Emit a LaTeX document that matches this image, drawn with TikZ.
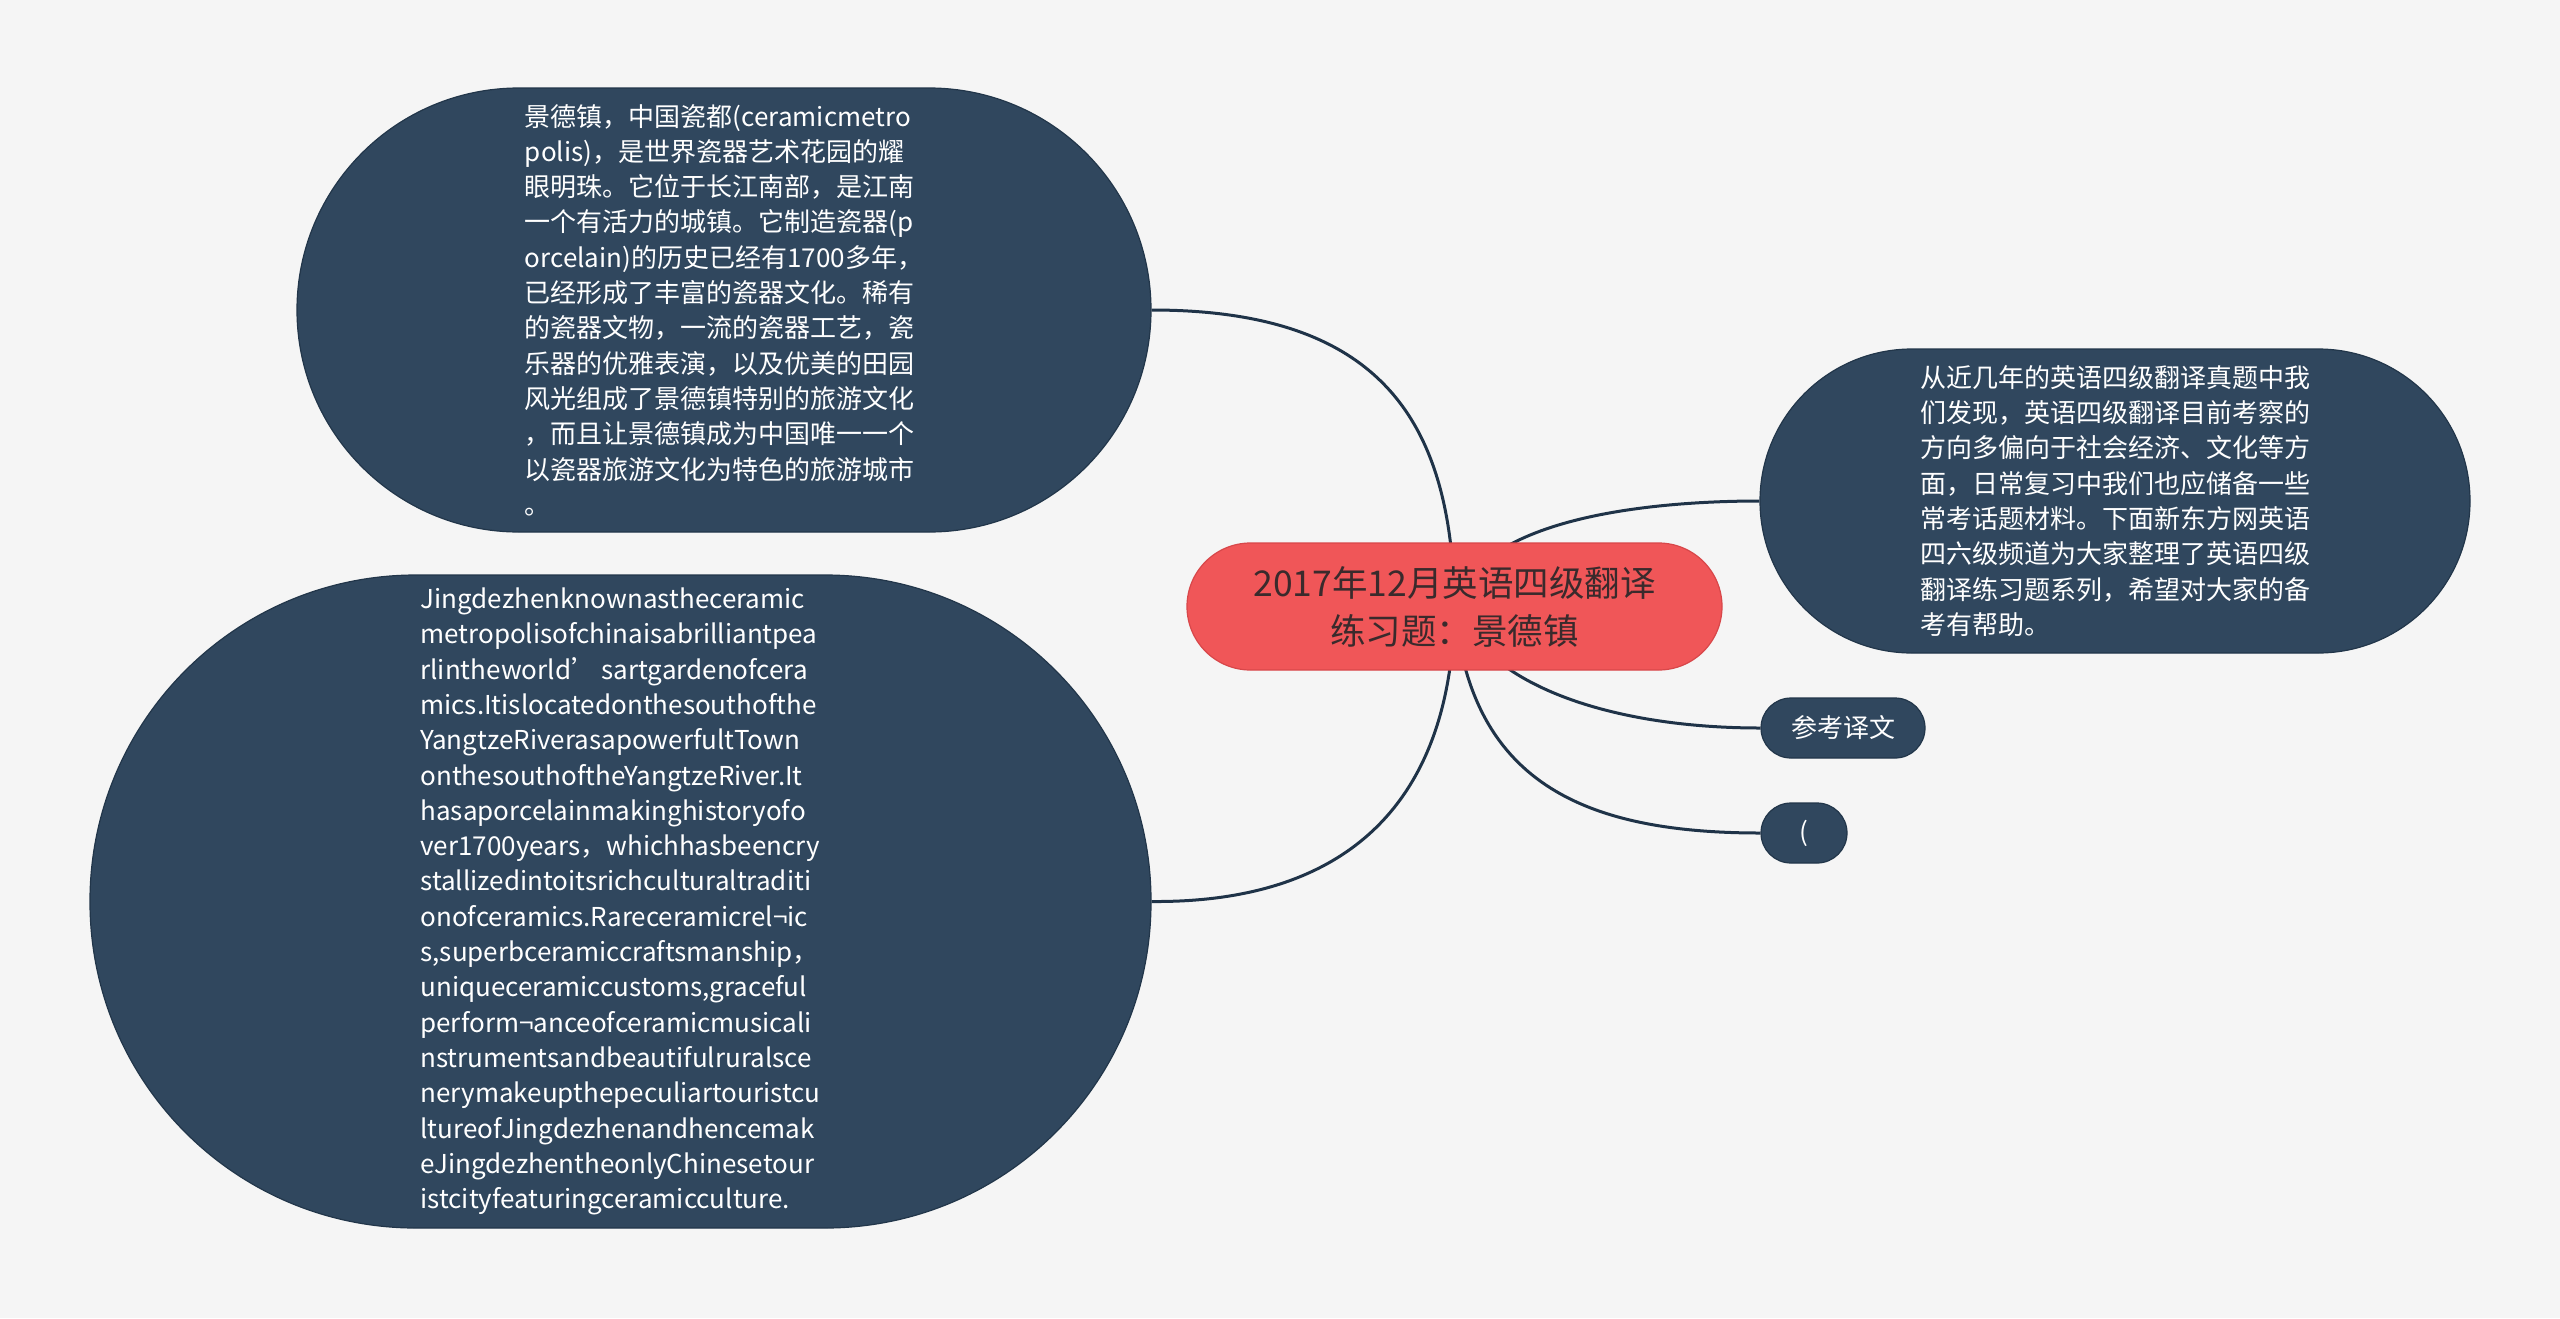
\documentclass[tikz,border=0pt]{standalone}
\usepackage{fontspec}
\setmainfont{Noto Sans CJK SC}
\usetikzlibrary{backgrounds}
\definecolor{bgc}{HTML}{F5F5F5}
\definecolor{topicfill}{HTML}{30475E}
\definecolor{topicedge}{HTML}{22364A}
\definecolor{rootfill}{HTML}{F05658}
\definecolor{rootedge}{HTML}{D8474A}
\definecolor{roottext}{HTML}{3A2A2C}
\definecolor{linec}{HTML}{1F3348}
\begin{document}
\begin{tikzpicture}[x=1pt,y=1pt,
  topic/.style={draw=topicedge, line width=1.2pt, fill=topicfill, text=white, align=left, inner sep=0pt,
    font=\fontsize{26}{35.3}\selectfont},
  root/.style={draw=rootedge, line width=1.2pt, fill=rootfill, text=roottext, align=center, inner sep=0pt,
    font=\fontsize{35.5}{48}\selectfont},
  link/.style={draw=linec, line width=3pt}]
\useasboundingbox (0,0) rectangle (2560,-1318);

\node[root, minimum width=535pt, minimum height=127pt, rounded corners=63.5pt] (root) at (1454.5,-606.5)
  {2017年12月英语四级翻译\\练习题：景德镇};

\node[topic, minimum width=854pt, minimum height=444pt, rounded corners=222pt] (n1) at (724,-310)
  {景德镇，中国瓷都(ceramicmetro\\
   polis)，是世界瓷器艺术花园的耀\\
   眼明珠。它位于长江南部，是江南\\
   一个有活力的城镇。它制造瓷器(p\\
   orcelain)的历史已经有1700多年，\\
   已经形成了丰富的瓷器文化。稀有\\
   的瓷器文物，一流的瓷器工艺，瓷\\
   乐器的优雅表演，以及优美的田园\\
   风光组成了景德镇特别的旅游文化\\
   ，而且让景德镇成为中国唯一一个\\
   以瓷器旅游文化为特色的旅游城市\\
   。};

\node[topic, minimum width=1061pt, minimum height=653pt, rounded corners=326pt] (n2) at (620.5,-901.5)
  {Jingdezhenknownastheceramic\\
   metropolisofchinaisabrilliantpea\\
   rlintheworld’\,sartgardenofcera\\
   mics.Itislocatedonthesouthofthe\\
   YangtzeRiverasapowerfultTown\\
   onthesouthoftheYangtzeRiver.It\\
   hasaporcelainmakinghistoryofo\\
   ver1700years，whichhasbeencry\\
   stallizedintoitsrichculturaltraditi\\
   onofceramics.Rareceramicrel¬ic\\
   s,superbceramiccraftsmanship，\\
   uniqueceramiccustoms,graceful\\
   perform¬anceofceramicmusicali\\
   nstrumentsandbeautifulruralsce\\
   nerymakeupthepeculiartouristcu\\
   ltureofJingdezhenandhencemak\\
   eJingdezhentheonlyChinesetour\\
   istcityfeaturingceramicculture.};

\node[topic, minimum width=710pt, minimum height=304pt, rounded corners=152pt] (n3) at (2115,-501)
  {从近几年的英语四级翻译真题中我\\
   们发现，英语四级翻译目前考察的\\
   方向多偏向于社会经济、文化等方\\
   面，日常复习中我们也应储备一些\\
   常考话题材料。下面新东方网英语\\
   四六级频道为大家整理了英语四级\\
   翻译练习题系列，希望对大家的备\\
   考有帮助。};

\node[topic, align=center, minimum width=164pt, minimum height=60pt, rounded corners=30pt] (n4) at (1843,-728) {参考译文};
\node[topic, align=center, minimum width=86pt, minimum height=60pt, rounded corners=30pt] (n5) at (1804,-833) {(};

\begin{scope}[on background layer]
  \fill[bgc] (0,0) rectangle (2560,-1318);
  \draw[link] (root.center) .. controls (1452,-420) and (1380,-310) .. (n1.east);
  \draw[link] (root.center) .. controls (1452,-800) and (1350,-903) .. (n2.east);
  \draw[link] (root.center) .. controls (1480,-510) and (1680,-501) .. (n3.west);
  \draw[link] (root.center) .. controls (1490,-690) and (1620,-728) .. (n4.west);
  \draw[link] (root.center) .. controls (1470,-780) and (1580,-833) .. (n5.west);
\end{scope}
\end{tikzpicture}
\end{document}
